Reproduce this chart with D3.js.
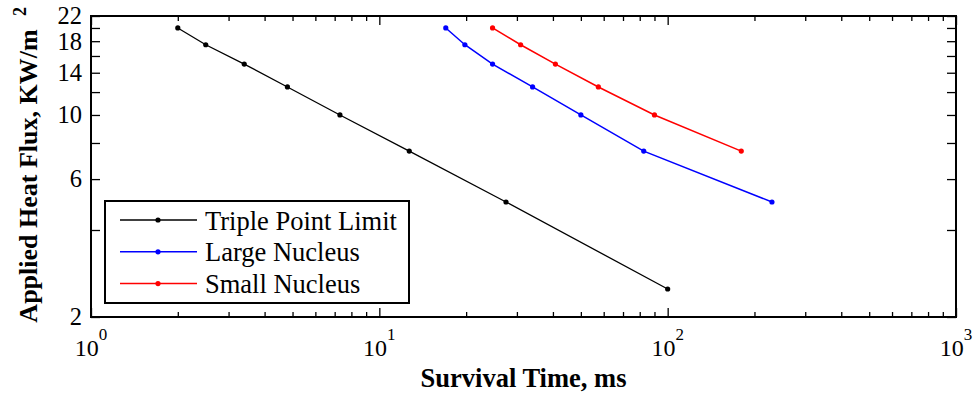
<!DOCTYPE html>
<html>
<head>
<meta charset="utf-8">
<script src="https://cdn.jsdelivr.net/npm/d3@7"></script>
<style>
  body { margin: 0; background: #fff; }
  svg { display: block; font-family: "Liberation Serif", "Times New Roman", serif; }
</style>
</head>
<body>
<svg width="977" height="394"></svg>
<script>
// values
var heatFlux = [20, 17.5, 15, 12.5, 10, 7.5, 5, 2.5];
var tripleTime = [2, 2.5, 3.4, 4.8, 7.3, 12.7, 27.5, 100];
var largeTime = [17, 19.8, 24.7, 34, 50, 82.6, 230];
var smallTime = [24.7, 30.9, 40.8, 57.5, 90, 180];

var seriesNames = ["Triple Point Limit", "Large Nucleus", "Small Nucleus"];
var seriesColors = ["#000000", "#0000ff", "#ff0000"];

var xMajor = [1, 10, 100, 1000];
var xExp = ["0", "1", "2", "3"];
var yTicks = [2, 4, 6, 8, 10, 12, 14, 16, 18, 20, 22];
var yLabels = [2, 6, 10, 14, 18, 22];

var svg = d3.select("svg");
var margin = { top: 16, right: 21, bottom: 77, left: 91 };
var W = 977, H = 394;

var x = d3.scaleLog().domain([1, 1000]).range([margin.left, W - margin.right]);
var y = d3.scaleLog().domain([2, 22]).range([H - margin.bottom, margin.top]);

var xMinor = [];
[1, 10, 100].forEach(function(d) {
  for (var k = 2; k <= 9; k++) xMinor.push(d * k);
});

function styleAxis(g) {
  g.select(".domain").remove();
  g.selectAll("line").attr("stroke", "#000").attr("stroke-width", 1.3);
  g.selectAll("text").remove();
}

// ticks, pointing inward
var y0 = y.range()[0], y1 = y.range()[1];
var x0 = x.range()[0], x1 = x.range()[1];

svg.append("g").attr("transform", "translate(0," + y0 + ")")
  .call(d3.axisBottom(x).tickValues(xMajor).tickSize(-9).tickSizeOuter(0)).call(styleAxis);
svg.append("g").attr("transform", "translate(0," + y0 + ")")
  .call(d3.axisBottom(x).tickValues(xMinor).tickSize(-5).tickSizeOuter(0)).call(styleAxis);
svg.append("g").attr("transform", "translate(0," + y1 + ")")
  .call(d3.axisTop(x).tickValues(xMajor).tickSize(-9).tickSizeOuter(0)).call(styleAxis);
svg.append("g").attr("transform", "translate(0," + y1 + ")")
  .call(d3.axisTop(x).tickValues(xMinor).tickSize(-5).tickSizeOuter(0)).call(styleAxis);
svg.append("g").attr("transform", "translate(" + x0 + ",0)")
  .call(d3.axisLeft(y).tickValues(yTicks).tickSize(-9).tickSizeOuter(0)).call(styleAxis);
svg.append("g").attr("transform", "translate(" + x1 + ",0)")
  .call(d3.axisRight(y).tickValues(yTicks).tickSize(-9).tickSizeOuter(0)).call(styleAxis);

// frame
svg.append("rect")
  .attr("x", x0).attr("y", y1)
  .attr("width", x1 - x0).attr("height", y0 - y1)
  .attr("fill", "none").attr("stroke", "#000").attr("stroke-width", 2);

// x tick labels 10^n
var xl = svg.append("g").selectAll("text").data(xMajor).enter().append("text")
  .attr("x", function(d) { return x(d); })
  .attr("y", 356)
  .attr("text-anchor", "middle")
  .attr("font-size", 24);
xl.append("tspan").text("10");
xl.append("tspan").attr("dy", -16).attr("font-size", 17)
  .text(function(d, i) { return xExp[i]; });

// y tick labels
svg.append("g").selectAll("text").data(yLabels).enter().append("text")
  .attr("x", 82)
  .attr("y", function(d) { return y(d); })
  .attr("dy", "0.34em")
  .attr("text-anchor", "end")
  .attr("font-size", 24.5)
  .text(function(d) { return d; });

// axis titles
svg.append("text")
  .attr("x", (x0 + x1) / 2).attr("y", 387)
  .attr("text-anchor", "middle")
  .attr("font-size", 26.5).attr("font-weight", "bold")
  .text("Survival Time, ms");

svg.append("text")
  .attr("transform", "translate(37,176) rotate(-90)")
  .attr("text-anchor", "middle")
  .attr("font-size", 26).attr("font-weight", "bold")
  .text("Applied Heat Flux, KW/m");
svg.append("text")
  .attr("transform", "translate(26,16) rotate(-90)")
  .attr("font-size", 18).attr("font-weight", "bold")
  .text("2");

// series
var series = [tripleTime, largeTime, smallTime].map(function(times, i) {
  return {
    name: seriesNames[i],
    color: seriesColors[i],
    points: times.map(function(t, j) { return { t: t, q: heatFlux[j] }; })
  };
});

var line = d3.line().x(function(d) { return x(d.t); }).y(function(d) { return y(d.q); });

var sg = svg.append("g").selectAll("g").data(series).enter().append("g");
sg.append("path")
  .attr("d", function(d) { return line(d.points); })
  .attr("fill", "none")
  .attr("stroke", function(d) { return d.color; })
  .attr("stroke-width", function(d, i) { return i === 0 ? 1.3 : 1.5; });
sg.selectAll("circle").data(function(d) { return d.points.map(function(p) { return { p: p, c: d.color }; }); })
  .enter().append("circle")
  .attr("cx", function(d) { return x(d.p.t); })
  .attr("cy", function(d) { return y(d.p.q); })
  .attr("r", 2.6)
  .attr("fill", function(d) { return d.c; });

// legend
var lg = svg.append("g");
lg.append("rect")
  .attr("x", 105).attr("y", 201).attr("width", 304).attr("height", 102)
  .attr("fill", "#fff").attr("stroke", "#000").attr("stroke-width", 2);
var li = lg.selectAll("g.item").data(series).enter().append("g")
  .attr("class", "item")
  .attr("transform", function(d, i) { return "translate(0," + (220 + i * 31.8) + ")"; });
li.append("line").attr("x1", 120).attr("x2", 197).attr("y1", 0).attr("y2", 0)
  .attr("stroke", function(d) { return d.color; }).attr("stroke-width", 1.5);
li.append("circle").attr("cx", 158).attr("cy", 0).attr("r", 2.6)
  .attr("fill", function(d) { return d.color; });
li.append("text").attr("x", 205).attr("y", 9.5)
  .attr("font-size", 26.5)
  .text(function(d) { return d.name; });
</script>
</body>
</html>
